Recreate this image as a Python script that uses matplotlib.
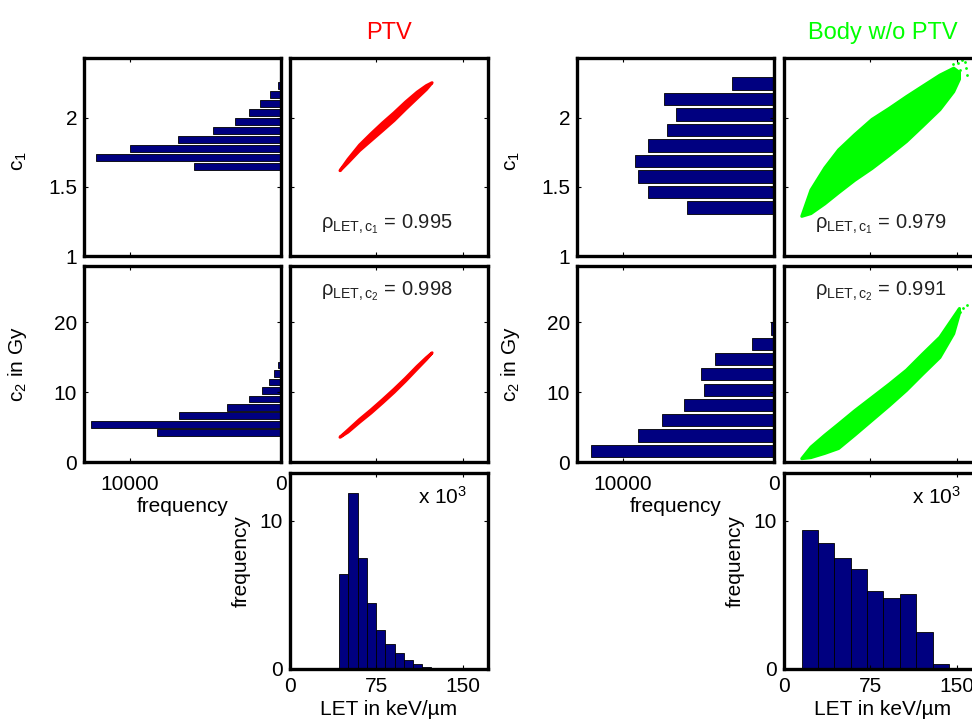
import numpy as np
import matplotlib.pyplot as plt

plt.rcParams['font.family'] = ['Liberation Sans', 'DejaVu Sans']
plt.rcParams['mathtext.fontset'] = 'custom'
plt.rcParams['mathtext.rm'] = 'Liberation Sans'
plt.rcParams['mathtext.it'] = 'Liberation Sans'

# ---------------- PTV ----------------
ptv_c1_centers = [1.647, 1.712, 1.777, 1.843, 1.908, 1.973, 2.038, 2.104, 2.169, 2.234]
ptv_c1_counts = [5760, 12270, 10019, 6841, 4502, 3023, 2119, 1390, 706, 177]
ptv_c2_centers = [4.17, 5.38, 6.59, 7.80, 9.01, 10.22, 11.43, 12.64, 13.85, 15.06]
ptv_c2_counts = [8232, 12580, 6753, 3597, 2097, 1258, 772, 441, 221, 40]
ptv_let_edges = [42.8, 50.8, 58.8, 66.8, 74.8, 82.8, 90.8, 98.8, 106.8, 114.8, 122.8]
ptv_let_counts = [6430, 11850, 7500, 4420, 2630, 1670, 1070, 600, 310, 130]

# scatter clouds traced as band outlines (LET, lower, upper)
ptv_let = [43, 50, 60, 70, 80, 90, 100, 110, 118, 123]
ptv_c1_lo = [1.62, 1.678, 1.765, 1.837, 1.909, 1.982, 2.064, 2.143, 2.206, 2.255]
ptv_c1_hi = [1.62, 1.702, 1.805, 1.887, 1.965, 2.038, 2.116, 2.187, 2.234, 2.255]
ptv_c2_lo = [3.61, 4.35, 5.75, 7.08, 8.53, 10.03, 11.65, 13.37, 14.73, 15.67]
ptv_c2_hi = [3.61, 4.65, 6.15, 7.52, 8.97, 10.47, 12.05, 13.73, 14.97, 15.67]
ptv_rho = ['0.995', '0.998']

# ---------------- Body w/o PTV ----------------
body_c1_centers = [1.351, 1.463, 1.575, 1.686, 1.798, 1.910, 2.022, 2.133, 2.245, 2.357]
body_c1_counts = [5738, 8320, 9005, 9181, 8320, 7062, 6489, 7283, 2759, 20]
body_c2_centers = [1.62, 3.80, 5.98, 8.16, 10.34, 12.52, 14.70, 16.88, 19.06, 21.24]
body_c2_counts = [12116, 8982, 7437, 5981, 4635, 4855, 3884, 1479, 199, 20]
body_let_edges = [15.4, 29.6, 43.8, 58.0, 72.2, 86.4, 100.6, 114.8, 129.0, 143.2, 157.4]
body_let_counts = [9380, 8480, 7480, 6760, 5250, 4800, 5040, 2460, 310, 30]

body_let = [15, 23, 35, 47, 61, 76, 91, 106, 120, 135, 147, 152]
body_c1_lo = [1.29, 1.31, 1.38, 1.46, 1.55, 1.635, 1.73, 1.83, 1.94, 2.06, 2.19, 2.28]
body_c1_hi = [1.29, 1.48, 1.64, 1.77, 1.88, 1.99, 2.07, 2.155, 2.23, 2.31, 2.36, 2.33]
body_c2_lo = [0.55, 0.7, 1.3, 2.0, 3.9, 6.0, 8.1, 10.3, 12.6, 15.0, 18.4, 21.3]
body_c2_hi = [0.55, 2.2, 3.9, 5.5, 7.4, 9.3, 11.2, 13.2, 15.5, 17.9, 20.8, 22.0]
body_c1_out_let = [146.9, 151.3, 154.3, 157.3, 152.8, 158.1, 158.7, 149.3, 145.4]
body_c1_out_val = [2.384, 2.396, 2.415, 2.40, 2.343, 2.36, 2.31, 2.263, 2.251]
body_c2_out_let = [158.7, 155.8, 152.8, 149.3, 146.3, 142.5]
body_c2_out_val = [22.43, 21.95, 21.48, 20.76, 20.05, 19.33]
body_rho = ['0.979', '0.991']

BAR = '#000080'
W, H = 972, 725
FS = 15

fig = plt.figure(figsize=(9.72, 7.25), dpi=100)


def rect(x0, y0, x1, y1):
    return [x0 / W, 1 - y1 / H, (x1 - x0) / W, (y1 - y0) / H]


def style(ax):
    for s in ax.spines.values():
        s.set_linewidth(2.4)
    ax.tick_params(direction='in', top=True, right=True, length=3, width=0.8,
                   labelsize=FS, pad=5)


def group(xh, xs, c1c, c1n, c2c, c2n, le, ln, let, c1lo, c1hi, c2lo, c2hi,
          rho, color, title, outs=None):
    # histograms of c1 and c2 (horizontal, frequency axis reversed)
    ax1 = fig.add_axes(rect(xh, 58, xh + 197, 256))
    ax1.barh(c1c, c1n, height=0.8 * np.diff(c1c).mean(), color=BAR,
             edgecolor='black', linewidth=0.6)
    ax1.set_xlim(13040, 0)
    ax1.set_ylim(1, 2.43)
    ax1.set_yticks([1, 1.5, 2], ['1', '1.5', '2'])
    ax1.set_xticks([10000], [''])
    ax1.set_ylabel('c$_1$', fontsize=FS)
    ax1.yaxis.set_label_coords(-0.28, 0.48)
    style(ax1)

    ax2 = fig.add_axes(rect(xh, 266, xh + 197, 462))
    ax2.barh(c2c, c2n, height=0.8 * np.diff(c2c).mean(), color=BAR,
             edgecolor='black', linewidth=0.6)
    ax2.set_xlim(13040, 0)
    ax2.set_ylim(0, 28)
    ax2.set_yticks([0, 10, 20])
    ax2.set_xticks([10000, 0], ['10000', '0'])
    ax2.set_ylabel('c$_2$ in Gy', fontsize=FS)
    ax2.yaxis.set_label_coords(-0.28, 0.5)
    ax2.set_xlabel('frequency', fontsize=FS)
    ax2.xaxis.set_label_coords(0.5, -0.18)
    style(ax2)
    ax2.tick_params(axis='x', pad=9)

    # scatter clouds
    ax3 = fig.add_axes(rect(xs, 58, xs + 198, 256))
    ax3.fill_between(let, c1lo, c1hi, color=color, edgecolor=color, linewidth=2.2)
    ax3.set_xlim(0, 172)
    ax3.set_ylim(1, 2.43)
    ax3.set_xticks([0, 75, 150], [])
    ax3.set_yticks([1, 1.5, 2], [])
    ax3.text(0.49, 0.16, r'$\rho_{\mathrm{LET,c_1}}$ = ' + rho[0],
             transform=ax3.transAxes, ha='center', va='center', fontsize=14.5,
             color='#222222')
    ax3.set_title(title, color=color, fontsize=17, pad=14)
    style(ax3)

    ax4 = fig.add_axes(rect(xs, 266, xs + 198, 462))
    ax4.fill_between(let, c2lo, c2hi, color=color, edgecolor=color, linewidth=2.2)
    ax4.set_xlim(0, 172)
    ax4.set_ylim(0, 28)
    ax4.set_xticks([0, 75, 150], [])
    ax4.set_yticks([0, 10, 20], [])
    ax4.text(0.49, 0.87, r'$\rho_{\mathrm{LET,c_2}}$ = ' + rho[1],
             transform=ax4.transAxes, ha='center', va='center', fontsize=14.5,
             color='#222222')
    style(ax4)

    if outs is not None:
        ax3.scatter(outs[0], outs[1], s=4, color=color, linewidths=0)
        ax4.scatter(outs[2], outs[3], s=4, color=color, linewidths=0)

    # LET histogram
    ax5 = fig.add_axes(rect(xs, 473, xs + 198, 669))
    ax5.bar(le[:-1], ln, width=np.diff(le), align='edge', color=BAR,
            edgecolor='black', linewidth=0.6)
    ax5.set_xlim(0, 172)
    ax5.set_ylim(0, 13200)
    ax5.set_xticks([0, 75, 150])
    ax5.set_yticks([0, 10000], ['0', '10'])
    ax5.set_xlabel('LET in keV/µm', fontsize=FS)
    ax5.xaxis.set_label_coords(0.5, -0.16)
    ax5.set_ylabel('frequency', fontsize=FS)
    ax5.yaxis.set_label_coords(-0.2, 0.55)
    ax5.text(0.77, 0.88, r'x 10$^3$', transform=ax5.transAxes,
             ha='center', va='center', fontsize=FS)
    style(ax5)
    ax5.tick_params(axis='x', pad=6)


group(84, 290, ptv_c1_centers, ptv_c1_counts, ptv_c2_centers, ptv_c2_counts,
      ptv_let_edges, ptv_let_counts, ptv_let, ptv_c1_lo, ptv_c1_hi,
      ptv_c2_lo, ptv_c2_hi, ptv_rho, '#ff0000', 'PTV')
group(577, 784, body_c1_centers, body_c1_counts, body_c2_centers, body_c2_counts,
      body_let_edges, body_let_counts, body_let, body_c1_lo, body_c1_hi,
      body_c2_lo, body_c2_hi, body_rho, '#00ff00', 'Body w/o PTV',
      outs=(body_c1_out_let, body_c1_out_val, body_c2_out_let, body_c2_out_val))

fig.savefig('out.png', dpi=100)
